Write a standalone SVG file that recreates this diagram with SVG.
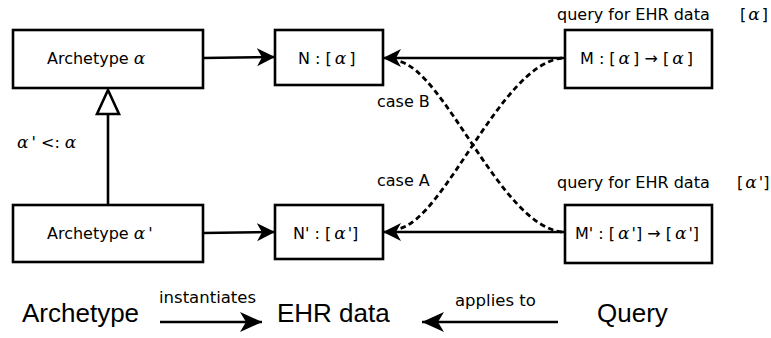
<svg xmlns="http://www.w3.org/2000/svg" width="771" height="338" viewBox="0 0 771 338">
<style>
.box{fill:#fff;stroke:#000;stroke-width:2.6}
.t{font-family:"DejaVu Sans",sans-serif;font-size:16px;fill:#000}
.a{font-family:"DejaVu Serif",serif;font-style:italic;font-size:17px}
.big{font-family:"Liberation Sans",Arial,sans-serif;font-size:26px;fill:#000}
.sm{font-family:"DejaVu Sans",sans-serif;font-size:16.5px;fill:#000}
.ln{fill:none;stroke:#000;stroke-width:2.6}
.dash{fill:none;stroke:#000;stroke-width:2.8;stroke-dasharray:5.5 3.5}
</style>
<defs>
<marker id="ah" markerUnits="userSpaceOnUse" markerWidth="20" markerHeight="20" refX="18" refY="9" orient="auto">
<path d="M18,9 L0,0 L5,9 L0,18 Z" fill="#000"/>
</marker>
<marker id="ahb" markerUnits="userSpaceOnUse" markerWidth="24" markerHeight="22" refX="22" refY="10" orient="auto">
<path d="M22,10 L0,0 L6,10 L0,20 Z" fill="#000"/>
</marker>
</defs>
<g id="connectors">
<line class="ln" x1="203" y1="58" x2="275" y2="57" marker-end="url(#ah)"/>
<line class="ln" x1="565" y1="58" x2="383" y2="58" marker-end="url(#ah)"/>
<line class="ln" x1="203" y1="233" x2="275" y2="232" marker-end="url(#ah)"/>
<line class="ln" x1="565" y1="232" x2="383" y2="232" marker-end="url(#ah)"/>
<line class="ln" x1="108" y1="205" x2="108" y2="114"/>
<polygon points="108,90 97,114 119,114" fill="#fff" stroke="#000" stroke-width="2.6"/>
<path class="dash" d="M562,58 C500,65 445,220 398,229"/>
<path class="dash" d="M562,232 C500,225 445,70 398,61"/>
<line class="ln" x1="160" y1="322" x2="262" y2="322" stroke-width="3" marker-end="url(#ahb)"/>
<line class="ln" x1="558" y1="322" x2="422" y2="322" stroke-width="3" marker-end="url(#ahb)"/>
</g>
<g id="archetype-a">
<rect class="box" x="13" y="30" width="190" height="58"/>
<text class="t" x="47" y="64">Archetype <tspan class="a">α</tspan></text>
</g>
<g id="n-a">
<rect class="box" x="275" y="30" width="108" height="55"/>
<text class="t" x="298" y="64">N : [<tspan class="a" dx="3">α</tspan><tspan dx="3">]</tspan></text>
</g>
<g id="m-a">
<rect class="box" x="565" y="30" width="147" height="58"/>
<text class="t" x="580" y="64">M : [<tspan class="a" dx="3">α</tspan><tspan dx="3">] → [</tspan><tspan class="a" dx="3">α</tspan><tspan dx="3">]</tspan></text>
</g>
<g id="archetype-a2">
<rect class="box" x="13" y="205" width="190" height="57"/>
<text class="t" x="47" y="239">Archetype <tspan class="a">α</tspan><tspan dx="3">'</tspan></text>
</g>
<g id="n-a2">
<rect class="box" x="275" y="205" width="108" height="54"/>
<text class="t" x="293" y="239">N' : [<tspan class="a" dx="3">α</tspan><tspan dx="2">']</tspan></text>
</g>
<g id="m-a2">
<rect class="box" x="565" y="205" width="147" height="58"/>
<text class="t" x="575" y="239">M' : [<tspan class="a" dx="3">α</tspan><tspan dx="2">'] → [</tspan><tspan class="a" dx="3">α</tspan><tspan dx="2">']</tspan></text>
</g>
<g id="labels">
<text class="t" x="557" y="20">query for EHR data</text>
<text class="t" x="740" y="20">[<tspan class="a" dx="2">α</tspan><tspan dx="2">]</tspan></text>
<text class="t" x="557" y="188">query for EHR data</text>
<text class="t" x="737" y="188">[<tspan class="a" dx="2">α</tspan><tspan dx="2">']</tspan></text>
<text class="t" x="17" y="148"><tspan class="a">α</tspan><tspan dx="3">'  &lt;:  </tspan><tspan class="a">α</tspan></text>
<text class="t" x="377" y="107">case B</text>
<text class="t" x="377" y="186">case A</text>
</g>
<g id="legend">
<text class="big" x="22" y="322">Archetype</text>
<text class="big" x="277" y="322">EHR data</text>
<text class="big" x="597" y="322">Query</text>
<text class="sm" x="159" y="303">instantiates</text>
<text class="sm" x="455" y="306">applies to</text>
</g>
</svg>
